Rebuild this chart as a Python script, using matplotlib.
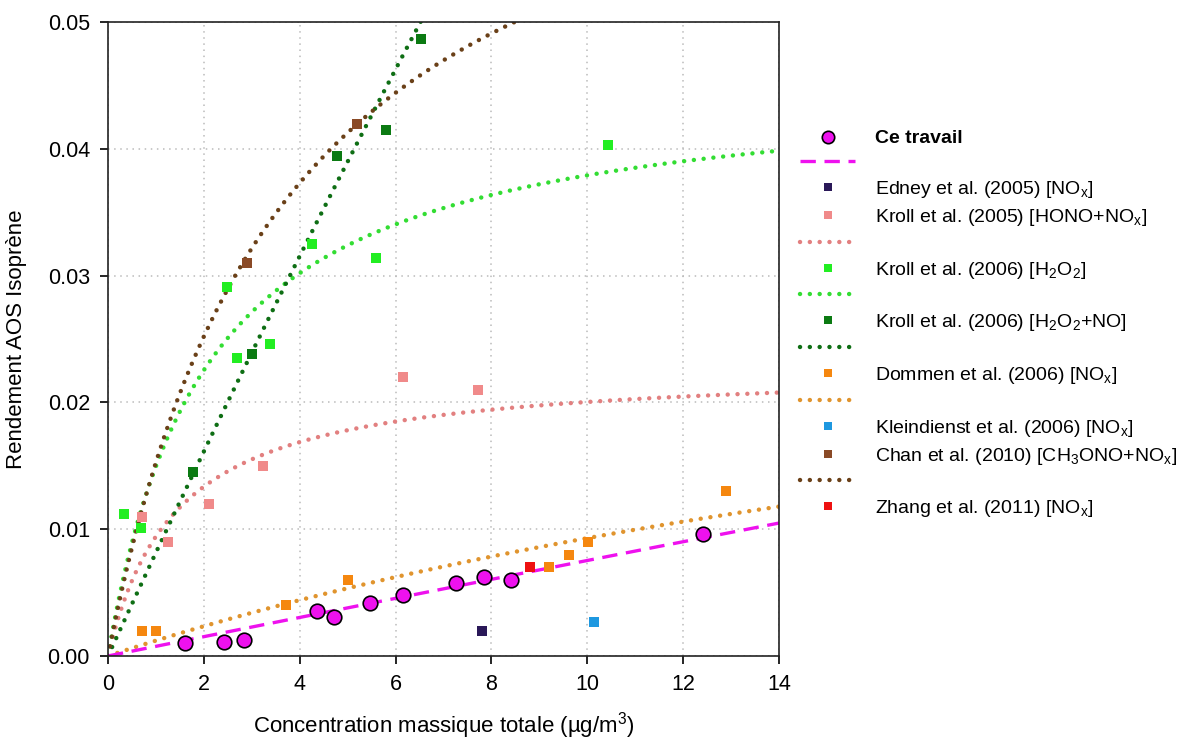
import numpy as np
import matplotlib
matplotlib.use("Agg")
import matplotlib.pyplot as plt

plt.rcParams["font.family"] = ["Liberation Sans", "DejaVu Sans"]
plt.rcParams["mathtext.fontset"] = "custom"
plt.rcParams["mathtext.rm"] = "Liberation Sans"

# --- measured points (x = Mo in ug/m3, y = yield) ---
ce_x = [1.61, 2.41, 2.83, 4.36, 4.72, 5.47, 6.16, 7.27, 7.85, 8.40, 12.41]
ce_y = [0.00105, 0.00108, 0.00124, 0.00355, 0.00305, 0.0042, 0.0048, 0.00573, 0.00625, 0.0060, 0.00962]

edney_x = [7.81]
edney_y = [0.0020]

kroll05_x = [0.71, 1.26, 2.11, 3.23, 6.16, 7.71]
kroll05_y = [0.011, 0.009, 0.012, 0.015, 0.022, 0.021]

kroll06a_x = [0.34, 0.68, 2.48, 2.69, 3.37, 4.26, 5.60, 10.43]
kroll06a_y = [0.0112, 0.0101, 0.0291, 0.0235, 0.0246, 0.0325, 0.0314, 0.0403]

kroll06b_x = [1.77, 3.01, 4.78, 5.81, 6.54]
kroll06b_y = [0.0145, 0.0238, 0.0394, 0.0415, 0.0487]

dommen_x = [0.70, 1.01, 3.71, 5.00, 9.21, 9.61, 10.02, 12.90]
dommen_y = [0.002, 0.002, 0.004, 0.006, 0.007, 0.008, 0.009, 0.013]

klein_x = [10.13]
klein_y = [0.0027]

chan_x = [2.89, 5.20]
chan_y = [0.031, 0.042]

zhang_x = [8.80]
zhang_y = [0.007]

# --- one-product Odum fits: (alpha, K) ---
fit_ce = (0.5, 0.00153)
fit_kroll05 = (0.0229, 0.70)
fit_kroll06a = (0.0457, 0.487)
fit_kroll06b = (0.70, 0.0118)
fit_dommen = (0.0357, 0.0352)
fit_chan = (0.0718, 0.2705)


def odum(m, fit):
    a, k = fit
    return a * k * m / (1 + k * m)


m = np.linspace(0, 14, 400)

fig = plt.figure(figsize=(11.95, 7.44), dpi=100)
ax = fig.add_axes([0.0904, 0.1183, 0.5615, 0.852])

dot = dict(linestyle=(0, (0.01, 2.2)), linewidth=3.2, dash_capstyle="round")

c_pink, c_pink_l = "#f08a8a", "#e28080"
c_lgreen, c_lgreen_l = "#22ee22", "#33dd33"
c_dgreen, c_dgreen_l = "#0b7a12", "#0e6e14"
c_orange, c_orange_l = "#f5870f", "#e0942e"
c_brown, c_brown_l = "#7a4a28", "#6a4018"
c_mag = "#ee11ee"

l_k05, = ax.plot(m, odum(m, fit_kroll05), color=c_pink_l, **dot)
l_k06a, = ax.plot(m, odum(m, fit_kroll06a), color=c_lgreen_l, **dot)
l_k06b, = ax.plot(m, odum(m, fit_kroll06b), color=c_dgreen_l, **dot)
l_dom, = ax.plot(m, odum(m, fit_dommen), color=c_orange_l, **dot)
l_chan, = ax.plot(m, odum(m, fit_chan), color=c_brown_l, **dot)
l_ce, = ax.plot(m, odum(m, fit_ce), color=c_mag, linewidth=2.4,
                linestyle=(0, (4.6, 2.6)))

sq = dict(marker="s", linestyle="none", markersize=6.5, markeredgewidth=0)
h_ed, = ax.plot(edney_x, edney_y, color="#2a1858", **sq)
h_k05, = ax.plot(kroll05_x, kroll05_y, color=c_pink, **sq)
h_k06a, = ax.plot(kroll06a_x, kroll06a_y, color=c_lgreen, **sq)
h_k06b, = ax.plot(kroll06b_x, kroll06b_y, color=c_dgreen, **sq)
h_dom, = ax.plot(dommen_x, dommen_y, color=c_orange, **sq)
h_kl, = ax.plot(klein_x, klein_y, color="#1e98e0", **sq)
h_chan, = ax.plot(chan_x, chan_y, color="#8a4a26", **sq)
h_zh, = ax.plot(zhang_x, zhang_y, color="#ee1111", **sq)
h_ce, = ax.plot(ce_x, ce_y, marker="o", linestyle="none", markersize=10.5,
                markerfacecolor=c_mag, markeredgecolor="black", markeredgewidth=1.2)

ax.set_xlim(0, 14)
ax.set_ylim(0, 0.05)
ax.set_xticks(np.arange(0, 15, 2))
ax.set_yticks(np.arange(0, 0.051, 0.01))
ax.set_yticklabels(["0.00", "0.01", "0.02", "0.03", "0.04", "0.05"])
ax.tick_params(labelsize=15.5, length=6, width=1.2, direction="out", pad=7)
ax.grid(True, color="#bbbbbb", linestyle=(0, (1, 3)), linewidth=1.1)
for s in ax.spines.values():
    s.set_linewidth(1.2)
    s.set_color("#222222")

ax.set_xlabel("Concentration massique totale (µg/m$^3$)", fontsize=16, labelpad=11)
ax.set_ylabel("Rendement AOS Isoprène", fontsize=16, labelpad=15)

handles = [h_ce, l_ce, h_ed, h_k05, l_k05, h_k06a, l_k06a, h_k06b, l_k06b,
           h_dom, l_dom, h_kl, h_chan, l_chan, h_zh]
labels = ["Ce travail", "",
          "Edney et al. (2005) [NO$_\\mathregular{x}$]",
          "Kroll et al. (2005) [HONO+NO$_\\mathregular{x}$]", "",
          "Kroll et al. (2006) [H$_\\mathregular{2}$O$_\\mathregular{2}$]", "",
          "Kroll et al. (2006) [H$_\\mathregular{2}$O$_\\mathregular{2}$+NO]", "",
          "Dommen et al. (2006) [NO$_\\mathregular{x}$]", "",
          "Kleindienst et al. (2006) [NO$_\\mathregular{x}$]",
          "Chan et al. (2010) [CH$_\\mathregular{3}$ONO+NO$_\\mathregular{x}$]", "",
          "Zhang et al. (2011) [NO$_\\mathregular{x}$]"]
leg = fig.legend(handles, labels, loc="upper left", bbox_to_anchor=(0.655, 0.849),
                 frameon=False, fontsize=14, handlelength=2.83, handletextpad=1.0,
                 labelspacing=0.36, markerscale=0.85)
leg.get_texts()[0].set_fontweight("bold")

fig.savefig("out.png", dpi=100)
